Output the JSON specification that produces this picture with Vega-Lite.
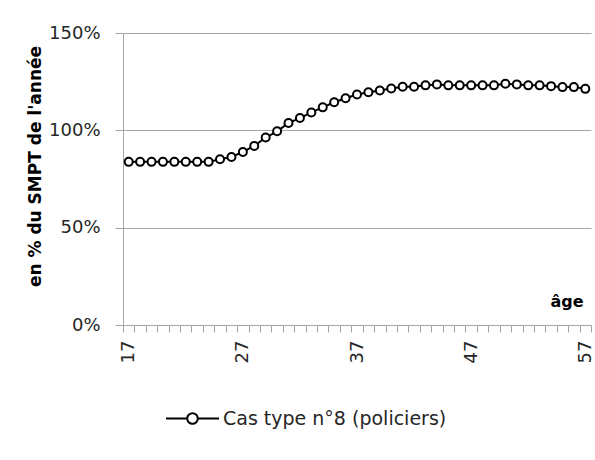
{
  "$schema": "https://vega.github.io/schema/vega-lite/v6.json",
  "width": 468,
  "height": 292,
  "autosize": {"type": "none"},
  "padding": {"left": 123, "top": 33, "right": 4, "bottom": 135},
  "background": "white",
  "config": {"view": {"stroke": null}, "font": "DejaVu Sans"},
  "data": {"values": [
    {"age": 17, "valeur": 0.838, "serie": "Cas type n°8 (policiers)"},
    {"age": 18, "valeur": 0.838, "serie": "Cas type n°8 (policiers)"},
    {"age": 19, "valeur": 0.838, "serie": "Cas type n°8 (policiers)"},
    {"age": 20, "valeur": 0.838, "serie": "Cas type n°8 (policiers)"},
    {"age": 21, "valeur": 0.838, "serie": "Cas type n°8 (policiers)"},
    {"age": 22, "valeur": 0.838, "serie": "Cas type n°8 (policiers)"},
    {"age": 23, "valeur": 0.838, "serie": "Cas type n°8 (policiers)"},
    {"age": 24, "valeur": 0.838, "serie": "Cas type n°8 (policiers)"},
    {"age": 25, "valeur": 0.851, "serie": "Cas type n°8 (policiers)"},
    {"age": 26, "valeur": 0.863, "serie": "Cas type n°8 (policiers)"},
    {"age": 27, "valeur": 0.889, "serie": "Cas type n°8 (policiers)"},
    {"age": 28, "valeur": 0.920, "serie": "Cas type n°8 (policiers)"},
    {"age": 29, "valeur": 0.963, "serie": "Cas type n°8 (policiers)"},
    {"age": 30, "valeur": 0.995, "serie": "Cas type n°8 (policiers)"},
    {"age": 31, "valeur": 1.038, "serie": "Cas type n°8 (policiers)"},
    {"age": 32, "valeur": 1.063, "serie": "Cas type n°8 (policiers)"},
    {"age": 33, "valeur": 1.092, "serie": "Cas type n°8 (policiers)"},
    {"age": 34, "valeur": 1.118, "serie": "Cas type n°8 (policiers)"},
    {"age": 35, "valeur": 1.144, "serie": "Cas type n°8 (policiers)"},
    {"age": 36, "valeur": 1.165, "serie": "Cas type n°8 (policiers)"},
    {"age": 37, "valeur": 1.184, "serie": "Cas type n°8 (policiers)"},
    {"age": 38, "valeur": 1.196, "serie": "Cas type n°8 (policiers)"},
    {"age": 39, "valeur": 1.205, "serie": "Cas type n°8 (policiers)"},
    {"age": 40, "valeur": 1.215, "serie": "Cas type n°8 (policiers)"},
    {"age": 41, "valeur": 1.224, "serie": "Cas type n°8 (policiers)"},
    {"age": 42, "valeur": 1.224, "serie": "Cas type n°8 (policiers)"},
    {"age": 43, "valeur": 1.231, "serie": "Cas type n°8 (policiers)"},
    {"age": 44, "valeur": 1.236, "serie": "Cas type n°8 (policiers)"},
    {"age": 45, "valeur": 1.231, "serie": "Cas type n°8 (policiers)"},
    {"age": 46, "valeur": 1.231, "serie": "Cas type n°8 (policiers)"},
    {"age": 47, "valeur": 1.231, "serie": "Cas type n°8 (policiers)"},
    {"age": 48, "valeur": 1.231, "serie": "Cas type n°8 (policiers)"},
    {"age": 49, "valeur": 1.231, "serie": "Cas type n°8 (policiers)"},
    {"age": 50, "valeur": 1.239, "serie": "Cas type n°8 (policiers)"},
    {"age": 51, "valeur": 1.236, "serie": "Cas type n°8 (policiers)"},
    {"age": 52, "valeur": 1.231, "serie": "Cas type n°8 (policiers)"},
    {"age": 53, "valeur": 1.231, "serie": "Cas type n°8 (policiers)"},
    {"age": 54, "valeur": 1.227, "serie": "Cas type n°8 (policiers)"},
    {"age": 55, "valeur": 1.222, "serie": "Cas type n°8 (policiers)"},
    {"age": 56, "valeur": 1.222, "serie": "Cas type n°8 (policiers)"},
    {"age": 57, "valeur": 1.213, "serie": "Cas type n°8 (policiers)"}
  ]},
  "encoding": {
    "y": {
      "field": "valeur",
      "type": "quantitative",
      "scale": {"domain": [0, 1.5], "nice": false},
      "axis": {
        "values": [0, 0.5, 1, 1.5],
        "format": ".0%",
        "labelFontSize": 18,
        "labelColor": "#262626",
        "labelPadding": 15,
        "tickSize": 8,
        "tickColor": "#a6a6a6",
        "domainColor": "#a6a6a6",
        "grid": true,
        "gridColor": "#a6a6a6",
        "title": "en % du SMPT de l'année",
        "titleFontSize": 17,
        "titleFontWeight": "bold",
        "titleColor": "black",
        "titleAngle": -90,
        "titleAlign": "center",
        "titleBaseline": "alphabetic",
        "titleX": -83,
        "titleY": 133
      }
    }
  },
  "layer": [
    {
      "mark": {"type": "line", "strokeWidth": 2},
      "encoding": {
        "x": {
          "field": "age",
          "type": "quantitative",
          "scale": {"domain": [16.5, 57.5], "nice": false, "zero": false},
          "axis": {
            "orient": "bottom",
            "values": [16.5, 17.5, 18.5, 19.5, 20.5, 21.5, 22.5, 23.5, 24.5, 25.5, 26.5, 27.5, 28.5, 29.5, 30.5, 31.5, 32.5, 33.5, 34.5, 35.5, 36.5, 37.5, 38.5, 39.5, 40.5, 41.5, 42.5, 43.5, 44.5, 45.5, 46.5, 47.5, 48.5, 49.5, 50.5, 51.5, 52.5, 53.5, 54.5, 55.5, 56.5, 57.5],
            "labels": false,
            "tickSize": 7,
            "tickColor": "#a6a6a6",
            "domainColor": "#a6a6a6",
            "grid": false,
            "title": "âge",
            "titleFontSize": 16,
            "titleFontWeight": "bold",
            "titleColor": "black",
            "titleAlign": "right",
            "titleBaseline": "alphabetic",
            "titleX": 460,
            "titleY": -19
          }
        },
        "color": {
          "field": "serie",
          "type": "nominal",
          "scale": {"range": ["black"]},
          "legend": {
            "title": null,
            "orient": "none",
            "legendX": 42,
            "legendY": 358,
            "padding": 0,
            "symbolType": "M-1,0L-0.2,0M0.2,0L1,0M0.2,0A0.2,0.2,0,1,1,-0.2,0A0.2,0.2,0,1,1,0.2,0",
            "symbolSize": 2809,
            "symbolStrokeWidth": 2,
            "labelFontSize": 19,
            "labelColor": "#262626",
            "labelOffset": 3,
            "labelLimit": 400,
            "encode": {"symbols": {"update": {"fill": {"value": "white"}, "stroke": {"value": "black"}, "strokeWidth": {"value": 2}, "opacity": {"value": 1}}}}
          }
        }
      }
    },
    {
      "mark": {"type": "point", "filled": true, "fill": "white", "stroke": "black", "strokeWidth": 2, "size": 64, "opacity": 1},
      "encoding": {
        "x": {
          "field": "age",
          "type": "quantitative",
          "axis": {
            "orient": "bottom",
            "values": [17, 27, 37, 47, 57],
            "format": "d",
            "labelAngle": -90,
            "labelOverlap": false,
            "labelFlush": false,
            "labelBound": false,
            "labelFontSize": 18,
            "labelColor": "#262626",
            "labelPadding": 15,
            "ticks": false,
            "tickSize": 0,
            "domain": false,
            "grid": false,
            "title": null
          }
        }
      }
    }
  ],
  "resolve": {"axis": {"x": "independent"}}
}
